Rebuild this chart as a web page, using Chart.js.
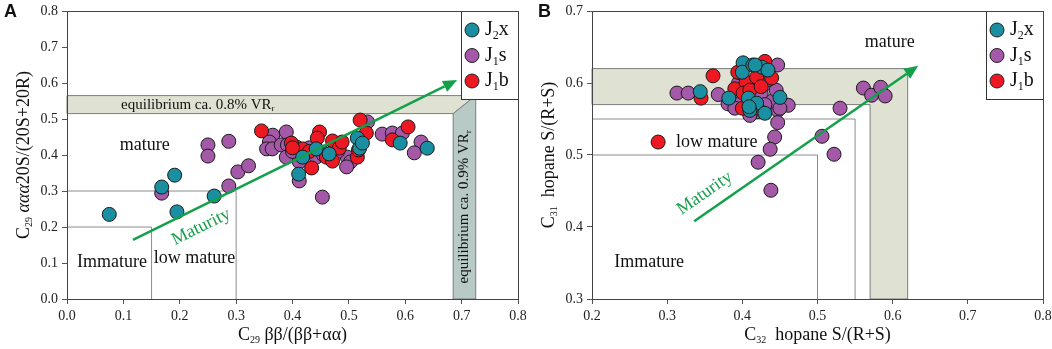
<!DOCTYPE html>
<html>
<head>
<meta charset="utf-8">
<script src="https://cdn.jsdelivr.net/npm/chart.js@4.4.0/dist/chart.umd.min.js"></script>
<style>
  body { margin: 0; background: #fff; }
  #wrap { position: relative; width: 1052px; height: 349px; }
  canvas { position: absolute; top: 0; }
  #chartA { left: 0; }
  #chartB { left: 526px; }
</style>
</head>
<body>
<div id="wrap">
  <canvas id="chartA" width="526" height="349"></canvas>
  <canvas id="chartB" width="526" height="349"></canvas>
</div>
<script>
// ---- data ----
const seriesNames = ["J2x", "J1s", "J1b"];

// panel A: C29 bb/(bb+aa) vs C29 aaa20S/(20S+20R)
const aJ2x = [[0.075,0.235],[0.168,0.311],[0.191,0.344],[0.195,0.242],[0.261,0.286],[0.411,0.347],
  [0.418,0.394],[0.442,0.417],[0.465,0.403],[0.515,0.447],[0.519,0.419],[0.524,0.433],[0.591,0.433],[0.639,0.419]];
const aJ1s = [[0.168,0.294],[0.25,0.428],[0.25,0.397],[0.287,0.438],[0.287,0.314],[0.303,0.353],[0.322,0.37],
  [0.365,0.455],[0.389,0.464],[0.359,0.436],[0.354,0.417],[0.364,0.417],[0.38,0.428],[0.391,0.428],[0.389,0.394],
  [0.407,0.422],[0.421,0.406],[0.412,0.381],[0.412,0.328],[0.453,0.283],[0.442,0.394],[0.453,0.408],[0.497,0.394],
  [0.503,0.381],[0.496,0.367],[0.533,0.492],[0.559,0.458],[0.577,0.461],[0.595,0.461],[0.628,0.436],[0.616,0.406],
  [0.43,0.42],[0.48,0.41],[0.455,0.4],[0.4,0.41]];
const aJ1b = [[0.345,0.467],[0.398,0.433],[0.418,0.417],[0.434,0.364],[0.448,0.464],[0.444,0.447],[0.46,0.394],
  [0.471,0.383],[0.471,0.439],[0.483,0.419],[0.488,0.436],[0.515,0.394],[0.517,0.414],[0.52,0.497],[0.531,0.461],
  [0.577,0.442],[0.605,0.478],[0.4,0.42],[0.43,0.41]];

// panel B: C32 hopane S/(R+S) vs C31 hopane S/(R+S)
const bJ2x = [[0.344,0.588],[0.382,0.579],[0.401,0.628],[0.4,0.615],[0.414,0.625],[0.426,0.622],[0.434,0.618],
  [0.408,0.579],[0.419,0.572],[0.41,0.562],[0.43,0.558],[0.45,0.58],[0.409,0.567],[0.417,0.625]];
const bJ1s = [[0.313,0.586],[0.328,0.586],[0.368,0.584],[0.381,0.571],[0.447,0.625],[0.461,0.569],[0.447,0.562],
  [0.447,0.545],[0.443,0.525],[0.437,0.508],[0.421,0.49],[0.438,0.451],[0.561,0.593],[0.572,0.583],[0.584,0.594],
  [0.59,0.582],[0.53,0.565],[0.506,0.526],[0.522,0.501],[0.395,0.6],[0.405,0.59],[0.415,0.595],[0.425,0.585],
  [0.435,0.6],[0.44,0.575],[0.43,0.57],[0.42,0.56],[0.41,0.555],[0.4,0.575],[0.39,0.565],[0.445,0.59],[0.435,0.605],
  [0.45,0.565],[0.415,0.6]];
const bJ1b = [[0.288,0.518],[0.345,0.579],[0.361,0.61],[0.39,0.592],[0.397,0.614],[0.405,0.601],[0.419,0.608],
  [0.401,0.586],[0.439,0.607],[0.394,0.615],[0.41,0.59],[0.4,0.565],[0.42,0.565],[0.43,0.63],[0.425,0.595]];

const aXTicks = [0, 0.1, 0.2, 0.3, 0.4, 0.5, 0.6, 0.7, 0.8];
const aYTicks = [0, 0.1, 0.2, 0.3, 0.4, 0.5, 0.6, 0.7, 0.8];
const bXTicks = [0.2, 0.3, 0.4, 0.5, 0.6, 0.7, 0.8];
const bYTicks = [0.3, 0.4, 0.5, 0.6, 0.7];

// ---- styles ----
const SERIF = '"Liberation Serif", "Times New Roman", serif';
const colors = { J2x: "#1b8fa2", J1s: "#a459a8", J1b: "#ee1822" };
const GREEN = "#12a04a";
const legendParts = {
  J2x: [["J"], ["2", true], ["x"]],
  J1s: [["J"], ["1", true], ["s"]],
  J1b: [["J"], ["1", true], ["b"]]
};

// draw text with subscript pieces
function rich(ctx, parts, x, y, size, align, color) {
  const fontFor = p => ((p[2] || "") + " " + (p[1] ? Math.round(size * 0.58) : size) + "px " + SERIF).trim();
  let w = 0;
  for (const p of parts) { ctx.font = fontFor(p); w += ctx.measureText(p[0]).width; }
  let cx = align === "center" ? x - w / 2 : (align === "right" ? x - w : x);
  ctx.textAlign = "left";
  ctx.textBaseline = "middle";
  ctx.fillStyle = color || "#111";
  for (const p of parts) {
    ctx.font = fontFor(p);
    ctx.fillText(p[0], cx, p[1] ? y + size * 0.3 : y);
    cx += ctx.measureText(p[0]).width;
  }
}

function text(ctx, s, x, y, size, color) {
  ctx.font = size + "px " + SERIF;
  ctx.fillStyle = color || "#111";
  ctx.textAlign = "center";
  ctx.textBaseline = "middle";
  ctx.fillText(s, x, y);
}

function poly(ctx, pts, fill, stroke) {
  ctx.beginPath();
  pts.forEach((p, i) => i ? ctx.lineTo(p[0], p[1]) : ctx.moveTo(p[0], p[1]));
  ctx.closePath();
  if (fill) { ctx.fillStyle = fill; ctx.fill(); }
  if (stroke) { ctx.strokeStyle = stroke; ctx.lineWidth = 1; ctx.stroke(); }
}

function polyline(ctx, pts, stroke) {
  ctx.beginPath();
  pts.forEach((p, i) => i ? ctx.lineTo(p[0], p[1]) : ctx.moveTo(p[0], p[1]));
  ctx.strokeStyle = stroke; ctx.lineWidth = 1; ctx.stroke();
}

function arrow(ctx, x1, y1, x2, y2) {
  const ang = Math.atan2(y2 - y1, x2 - x1), L = 14, W = 6;
  const c = Math.cos(ang), s = Math.sin(ang);
  ctx.strokeStyle = GREEN; ctx.lineWidth = 2.5;
  ctx.beginPath(); ctx.moveTo(x1, y1); ctx.lineTo(x2 - L * c, y2 - L * s); ctx.stroke();
  ctx.fillStyle = GREEN;
  ctx.beginPath();
  ctx.moveTo(x2, y2);
  ctx.lineTo(x2 - L * c + W * s, y2 - L * s - W * c);
  ctx.lineTo(x2 - L * c - W * s, y2 - L * s + W * c);
  ctx.closePath(); ctx.fill();
  return ang;
}

function drawLegend(ctx, a) {
  const w = 57, h = 88, x0 = Math.round(a.right) - w, y0 = Math.round(a.top);
  ctx.fillStyle = "#fff";
  ctx.fillRect(x0, y0, w, h);
  ctx.strokeStyle = "#333"; ctx.lineWidth = 1;
  ctx.strokeRect(x0 + 0.5, y0 + 0.5, w, h);
  seriesNames.forEach((n, i) => {
    const cy = y0 + 19 + i * 25.5;
    ctx.beginPath(); ctx.arc(x0 + 11, cy, 7, 0, Math.PI * 2);
    ctx.fillStyle = colors[n]; ctx.fill();
    ctx.strokeStyle = "#222"; ctx.stroke();
    rich(ctx, legendParts[n], x0 + 24, cy, 20, "left", "#111");
  });
}

function frame(ctx, a) {
  ctx.strokeStyle = "#444"; ctx.lineWidth = 1;
  ctx.strokeRect(Math.round(a.left) + 0.5, Math.round(a.top) + 0.5, Math.round(a.right - a.left), Math.round(a.bottom - a.top));
}

function panelPlugin(cfg) {
  return {
    id: "panel" + cfg.letter,
    beforeDatasetsDraw(chart) {
      const { ctx, chartArea: a, scales: { x, y } } = chart;
      const P = (vx, vy) => [x.getPixelForValue(vx), y.getPixelForValue(vy)];
      ctx.save();
      cfg.under(ctx, P, a);
      ctx.restore();
    },
    afterDatasetsDraw(chart) {
      const { ctx, chartArea: a, scales: { x, y } } = chart;
      const P = (vx, vy) => [x.getPixelForValue(vx), y.getPixelForValue(vy)];
      ctx.save();
      const s = P(cfg.arrow[0], cfg.arrow[1]), e = P(cfg.arrow[2], cfg.arrow[3]);
      const ang = arrow(ctx, s[0], s[1], e[0], e[1]);
      const t = P(cfg.matText[0], cfg.matText[1]);
      ctx.translate(t[0], t[1]); ctx.rotate(ang);
      text(ctx, "Maturity", 0, 0, 18, GREEN);
      ctx.setTransform(1, 0, 0, 1, 0, 0);
      drawLegend(ctx, a);
      frame(ctx, a);
      // axis titles
      rich(ctx, cfg.xTitle, (a.left + a.right) / 2, 335, 18, "center", "#111");
      ctx.translate(cfg.yTitleX, (a.top + a.bottom) / 2); ctx.rotate(-Math.PI / 2);
      rich(ctx, cfg.yTitle, 0, 0, 18, "center", "#111");
      ctx.setTransform(1, 0, 0, 1, 0, 0);
      // panel letter
      ctx.font = "bold 18px \"Liberation Sans\", Arial, sans-serif";
      ctx.fillStyle = "#111"; ctx.textAlign = "left"; ctx.textBaseline = "middle";
      ctx.fillText(cfg.letter, cfg.letterX, 12);
      ctx.restore();
    }
  };
}

function scatterSet(label, pts, order) {
  return {
    label: label,
    data: pts.map(p => ({ x: p[0], y: p[1] })),
    backgroundColor: colors[label],
    borderColor: "#1a1a1a",
    borderWidth: 1,
    pointRadius: 7,
    pointHoverRadius: 7,
    order: order
  };
}

function axis(min, max, tickVals, fit) {
  return {
    type: "linear", min: min, max: max,
    afterBuildTicks: s => { s.ticks = tickVals.map(v => ({ value: v })); },
    afterFit: s => {
      fit(s);
      s.paddingLeft = 0; s.paddingRight = 0; s.paddingTop = 0; s.paddingBottom = 0;
    },
    ticks: {
      callback: v => v.toFixed(1),
      font: { family: SERIF, size: 14 },
      color: "#222",
      padding: 4
    },
    grid: { display: true, drawOnChartArea: false, drawTicks: true, tickLength: 5, color: "#555" },
    border: { display: true, color: "#444" }
  };
}

function makeChart(id, sets, xr, yr, padRight, yWidth, plugin) {
  return new Chart(document.getElementById(id), {
    type: "scatter",
    data: { datasets: sets },
    options: {
      responsive: false,
      animation: false,
      layout: { padding: { top: 11, right: padRight, left: 0, bottom: 0 } },
      plugins: { legend: { display: false }, tooltip: { enabled: false } },
      scales: {
        x: axis(xr[0], xr[1], xr[2], s => { s.height = 50; }),
        y: axis(yr[0], yr[1], yr[2], s => { s.width = yWidth; })
      }
    },
    plugins: [plugin]
  });
}

// ---- panel A ----
makeChart("chartA",
  [scatterSet("J2x", aJ2x, 0), scatterSet("J1b", aJ1b, 1), scatterSet("J1s", aJ1s, 2)],
  [0, 0.8, aXTicks], [0, 0.8, aYTicks], 7, 67,
  panelPlugin({
    letter: "A", letterX: 4,
    arrow: [0.117, 0.164, 0.692, 0.608],
    matText: [0.238, 0.2],
    xTitle: [["C"], ["29", true], [" ββ/(ββ+αα)"]],
    yTitle: [["C"], ["29", true], [" "], ["ααα", false, "italic"], ["20S/(20S+20R)"]],
    yTitleX: 24,
    under(ctx, P, a) {
      poly(ctx, [P(0, 0.565), P(0.725, 0.565), P(0.685, 0.515), P(0, 0.515)], "#dfe2d3", "#7c7c7c");
      poly(ctx, [P(0.685, 0.515), P(0.725, 0.565), P(0.725, 0), P(0.685, 0)], "#b8cac5", "#7c7c7c");
      polyline(ctx, [P(0.15, 0), P(0.15, 0.2), P(0, 0.2)], "#8c8c8c");
      polyline(ctx, [P(0.3, 0), P(0.3, 0.3), P(0, 0.3)], "#8c8c8c");
      const h = P(0.232, 0.54);
      rich(ctx, [["equilibrium ca. 0.8% VR"], ["r", true]], h[0], h[1], 15, "center", "#111");
      const v = P(0.705, 0.256);
      ctx.translate(v[0], v[1]); ctx.rotate(-Math.PI / 2);
      rich(ctx, [["equilibrium ca. 0.9% VR"], ["r", true]], 0, 0, 15, "center", "#111");
      ctx.setTransform(1, 0, 0, 1, 0, 0);
      let p = P(0.138, 0.428); text(ctx, "mature", p[0], p[1], 18);
      p = P(0.08, 0.103); text(ctx, "Immature", p[0], p[1], 18);
      p = P(0.226, 0.114); text(ctx, "low mature", p[0], p[1], 18);
    }
  }));

// ---- panel B ----
makeChart("chartB",
  [scatterSet("J2x", bJ2x, 0), scatterSet("J1b", bJ1b, 1), scatterSet("J1s", bJ1s, 2)],
  [0.2, 0.8, bXTicks], [0.3, 0.7, bYTicks], 9, 66,
  panelPlugin({
    letter: "B", letterX: 12,
    arrow: [0.336, 0.408, 0.634, 0.624],
    matText: [0.35, 0.447],
    xTitle: [["C"], ["32", true], ["  hopane S/(R+S)"]],
    yTitle: [["C"], ["31", true], ["  hopane S/(R+S)"]],
    yTitleX: 23,
    under(ctx, P, a) {
      poly(ctx, [P(0.2, 0.62), P(0.62, 0.62), P(0.62, 0.3), P(0.57, 0.3), P(0.57, 0.57), P(0.2, 0.57)], "#dfe2d3", "#7c7c7c");
      polyline(ctx, [P(0.5, 0.3), P(0.5, 0.5), P(0.2, 0.5)], "#8c8c8c");
      polyline(ctx, [P(0.55, 0.3), P(0.55, 0.55), P(0.2, 0.55)], "#8c8c8c");
      let p = P(0.596, 0.656); text(ctx, "mature", p[0], p[1], 18);
      p = P(0.366, 0.518); text(ctx, "low mature", p[0], p[1], 18);
      p = P(0.276, 0.351); text(ctx, "Immature", p[0], p[1], 18);
    }
  }));
</script>
</body>
</html>
